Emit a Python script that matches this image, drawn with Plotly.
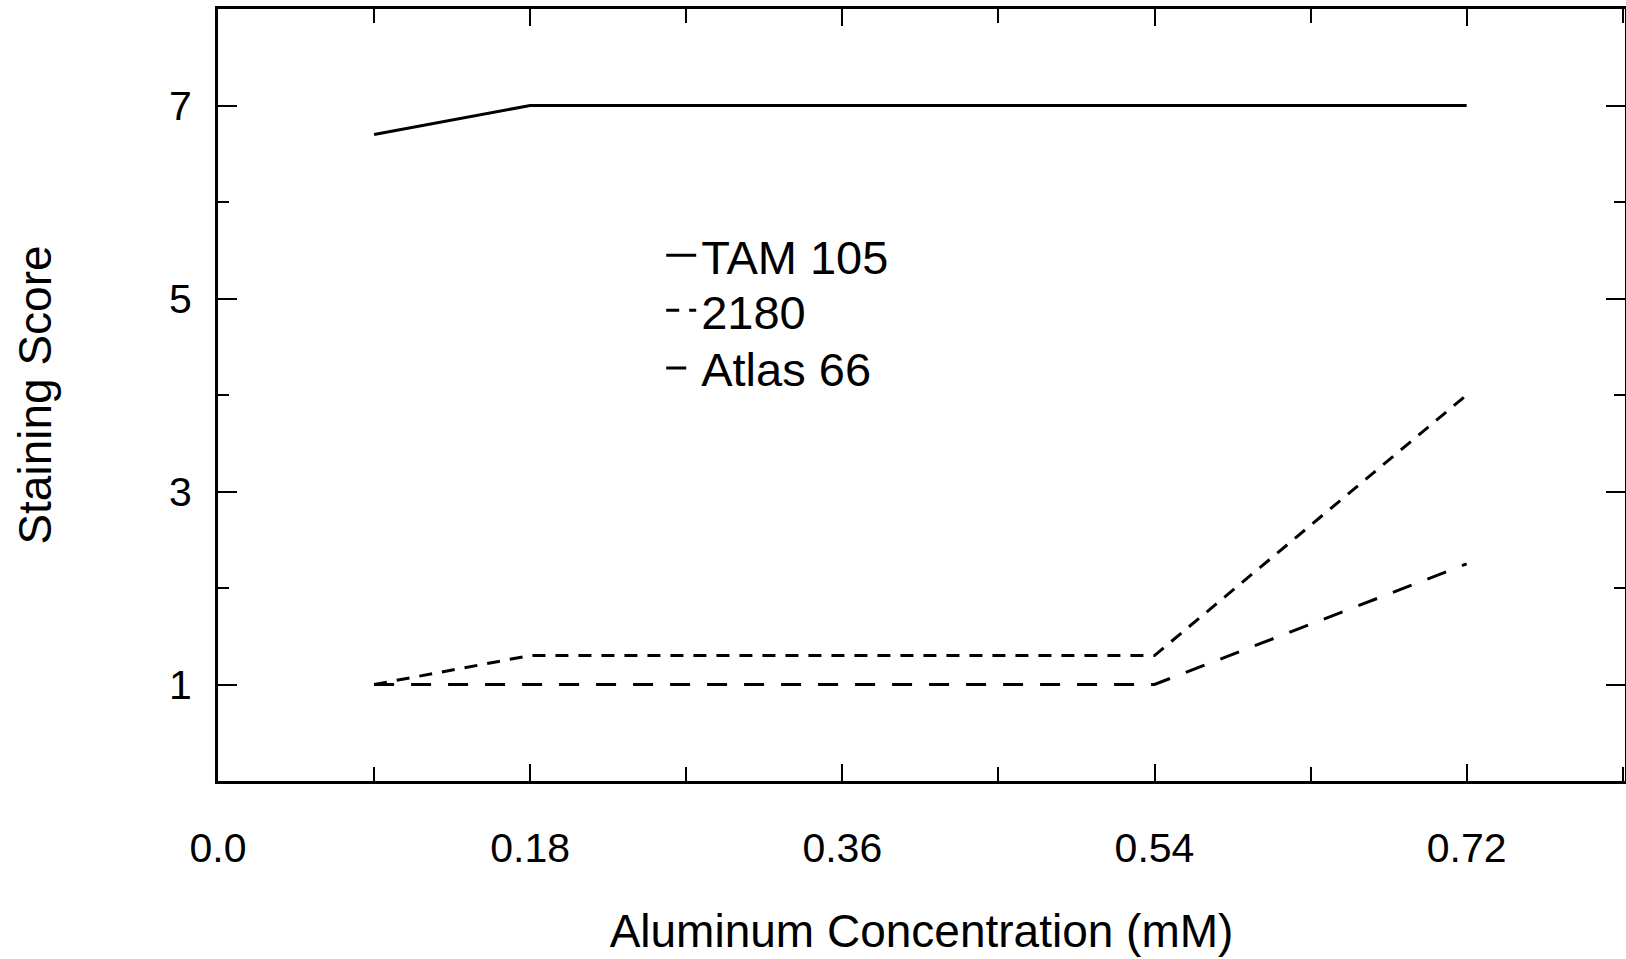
import plotly.graph_objects as go

# Data
conc = [0.09, 0.18, 0.36, 0.54, 0.72]
tam105 = [6.7, 7.0, 7.0, 7.0, 7.0]
s2180 = [1.0, 1.3, 1.3, 1.3, 4.0]
atlas66 = [1.0, 1.0, 1.0, 1.0, 2.25]

x_tickvals = [0.0, 0.18, 0.36, 0.54, 0.72]
x_ticktext = ["0.0", "0.18", "0.36", "0.54", "0.72"]
y_tickvals = [1, 3, 5, 7]
y_ticktext = ["1", "3", "5", "7"]

FONT = "Liberation Sans, Arial, Helvetica, sans-serif"

fig = go.Figure()
fig.add_trace(go.Scatter(x=conc, y=tam105, mode="lines", name="TAM 105", legend="legend",
                         line=dict(color="black", width=3, dash="solid")))
fig.add_trace(go.Scatter(x=conc, y=s2180, mode="lines", name="2180", legend="legend2",
                         line=dict(color="black", width=3, dash="13px,10px")))
fig.add_trace(go.Scatter(x=conc, y=atlas66, mode="lines", name="Atlas 66", legend="legend3",
                         line=dict(color="black", width=3, dash="20px,17px")))

leg_common = dict(x=0.315, xanchor="left", yanchor="middle",
                  bgcolor="rgba(0,0,0,0)", borderwidth=0,
                  font=dict(size=47, family=FONT, color="black"))

fig.update_layout(
    width=1626, height=959,
    margin=dict(l=218, r=1, t=9, b=178, autoexpand=False),
    paper_bgcolor="white", plot_bgcolor="white",
    font=dict(family=FONT, color="black", size=41),
    showlegend=True,
    legend=dict(y=0.6805, **leg_common),
    legend2=dict(y=0.6093, **leg_common),
    legend3=dict(y=0.5343, **leg_common),
    xaxis=dict(
        range=[0, 0.8113], showgrid=False, zeroline=False, automargin=False,
        showline=True, linecolor="black", linewidth=3, mirror="ticks",
        ticks="inside", ticklen=17, tickwidth=2, tickcolor="black",
        tickvals=x_tickvals, ticktext=x_ticktext,
        tickfont=dict(size=41),
        minor=dict(dtick=0.09, tick0=0, ticks="inside", ticklen=14, tickwidth=2, tickcolor="black"),
        title=dict(text="Aluminum Concentration (mM)", font=dict(size=46), standoff=45),
        ticklabelstandoff=29,
    ),
    yaxis=dict(
        range=[0, 8], showgrid=False, zeroline=False, automargin=False,
        showline=True, linecolor="black", linewidth=3, mirror="ticks",
        ticks="inside", ticklen=19, tickwidth=2, tickcolor="black",
        tickvals=y_tickvals, ticktext=y_ticktext,
        tickfont=dict(size=41),
        minor=dict(dtick=1, tick0=0, ticks="inside", ticklen=11, tickwidth=2, tickcolor="black"),
        title=dict(text="Staining Score", font=dict(size=46), standoff=103),
        ticklabelstandoff=15,
    ),
)

fig.write_html(
    "out.html",
    config={"displayModeBar": False},
    post_script="document.documentElement.style.margin='0';document.body.style.margin='0';"
                "document.body.style.overflow='hidden';document.documentElement.style.overflow='hidden';",
)
